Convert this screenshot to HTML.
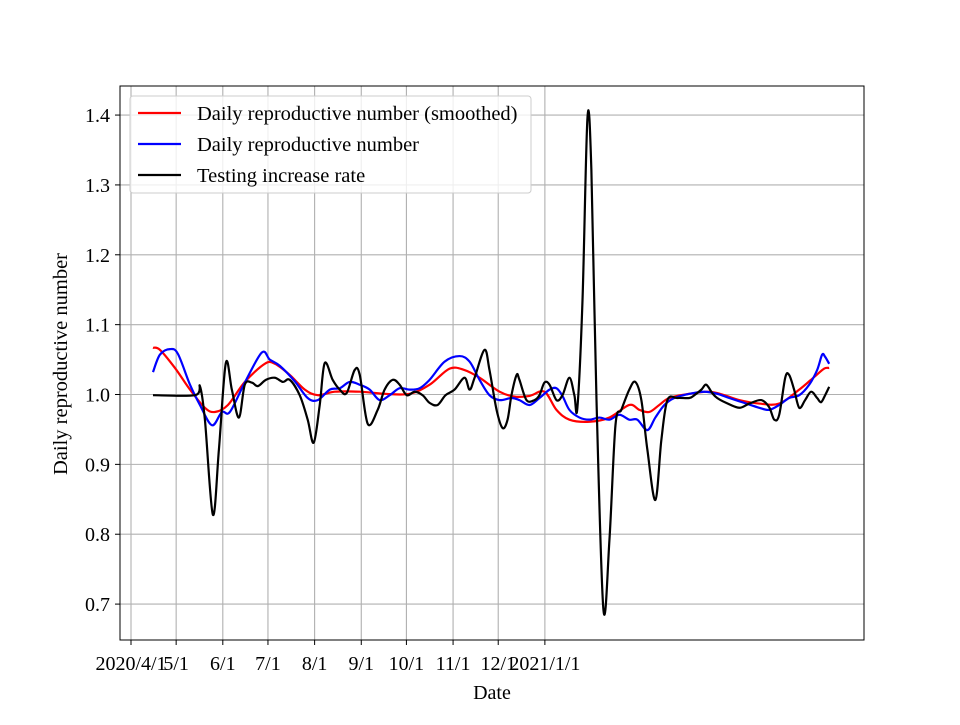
<!DOCTYPE html>
<html><head><meta charset="utf-8"><style>
body{margin:0;background:#fff}
svg{font-family:"Liberation Serif",serif}
</style></head><body>
<svg id="chart" width="960" height="720" xmlns="http://www.w3.org/2000/svg">
<rect width="960" height="720" fill="#fff"/>
<g id="grid"></g>
<g id="series"></g>
<rect x="120" y="86" width="744" height="554" fill="none" stroke="#000" stroke-width="1"/>
<g id="xticks"></g>
<g id="yticks"></g>
<text x="492" y="699" font-size="20" text-anchor="middle">Date</text>
<text transform="translate(67,364) rotate(-90)" font-size="20.5" text-anchor="middle">Daily reproductive number</text>
<g>
<rect x="130" y="96" width="401" height="97" rx="3" fill="#fff" fill-opacity="0.8" stroke="#ccc"/>
<line x1="138" y1="113" x2="181" y2="113" stroke="#f00" stroke-width="2.2"/>
<text x="197" y="120" font-size="20.5">Daily reproductive number (smoothed)</text>
<line x1="138" y1="144" x2="181" y2="144" stroke="#00f" stroke-width="2.2"/>
<text x="197" y="151" font-size="20.5">Daily reproductive number</text>
<line x1="138" y1="175" x2="181" y2="175" stroke="#000" stroke-width="2.2"/>
<text x="197" y="182" font-size="20.5">Testing increase rate</text>
</g>
</svg>
<script>
const xTickDays=[0,30,61,91,122,153,183,214,244,275];
const xTickLabels=["2020/4/1","5/1","6/1","7/1","8/1","9/1","10/1","11/1","12/1","2021/1/1"];
const yTickValues=[0.7,0.8,0.9,1.0,1.1,1.2,1.3,1.4];
const yTickLabels=["0.7","0.8","0.9","1.0","1.1","1.2","1.3","1.4"];
const redDays=[14.6,19.2,29.2,39.2,49.1,55.7,64.4,75.6,88.9,95.6,105.5,115.5,124.1,135.4,152,168.5,185.1,198.4,211.7,221.6,231.6,244.9,254.8,264.8,274.7,282.7,291.3,304.6,317.9,331.1,337.8,344.4,351,357.7,371,384.3,394.2,404.1,417.4,430.7,444,453.9,460.5,463.9];
const redValues=[1.067,1.064,1.038,1.007,0.981,0.975,0.985,1.018,1.044,1.044,1.028,1.007,0.999,1.004,1.004,1.001,1.001,1.014,1.037,1.035,1.024,1.004,0.997,0.998,1.004,0.978,0.964,0.961,0.967,0.985,0.978,0.975,0.985,0.995,1.001,1.004,0.999,0.992,0.987,0.987,1.007,1.025,1.037,1.038];
const blueDays=[14.6,19.2,25.9,31.2,39.2,45.8,53.8,60.4,65.7,75.6,86.9,92.2,98.9,108.8,117.4,124.1,132.1,138.7,145.3,152,158.6,165.2,171.9,178.5,185.1,191.8,198.4,208.4,218.3,225,231.6,238.2,244.9,252.8,258.1,264.8,271.4,278.1,282.7,286.7,291.3,298,304.6,311.2,317.9,324.5,331.1,336.4,343.1,348.4,354.4,361,371,381,389.5,397.5,407.5,417.4,424,430.7,437.3,444,450.6,455.9,459.2,461.2,463.9];
const blueValues=[1.032,1.057,1.065,1.058,1.014,0.985,0.956,0.975,0.975,1.017,1.060,1.050,1.041,1.019,0.995,0.992,1.007,1.009,1.018,1.014,1.007,0.992,0.999,1.009,1.007,1.009,1.021,1.047,1.055,1.047,1.021,0.999,0.992,0.995,0.992,0.985,0.995,1.007,1.009,0.998,0.978,0.967,0.964,0.967,0.964,0.971,0.964,0.964,0.949,0.967,0.985,0.995,1.001,1.004,1.001,0.995,0.988,0.981,0.978,0.985,0.995,0.999,1.014,1.035,1.057,1.054,1.044];
const blackDays=[14.6,42.5,45.8,49.1,54.4,58.4,63,67,71.7,75.6,80.3,84.3,89.6,95.6,100.9,105.5,112.1,117.4,121.4,125.4,128.7,134,138.7,143.3,148.6,152,157.3,163.9,168.5,173.9,178.5,183.2,188.5,193.8,198.4,203.7,209,215,221.6,225,228.3,234.9,238.2,242.9,246.9,250.2,252.8,256.2,258.1,262.8,268.1,271.4,274.7,278.1,282.7,286.7,291.3,294.6,296.6,300,303.3,305.9,309.3,313.9,317.9,321.9,325.8,331.1,335.1,339.1,343.1,348.4,352.4,356.4,363,371,374.3,379,382.2,386.2,389.5,395.5,404.1,410.8,418.7,424,427.4,430.7,434.7,437.3,440.6,444,447.9,451.9,455.9,458.5,461.2,463.9];
const blackValues=[0.999,0.999,1.012,0.964,0.828,0.921,1.045,1.007,0.967,1.014,1.017,1.012,1.021,1.024,1.018,1.021,0.999,0.964,0.931,0.985,1.045,1.021,1.007,1.002,1.035,1.028,0.958,0.978,1.007,1.021,1.014,0.999,1.004,0.999,0.988,0.985,0.999,1.007,1.024,1.007,1.024,1.064,1.035,0.978,0.952,0.964,0.999,1.028,1.021,0.992,0.992,0.999,1.017,1.014,0.992,0.999,1.024,0.999,0.981,1.135,1.396,1.321,0.992,0.692,0.792,0.956,0.978,1.007,1.018,0.992,0.921,0.849,0.935,0.992,0.995,0.995,0.999,1.007,1.014,1.002,0.995,0.988,0.981,0.987,0.992,0.982,0.964,0.971,1.024,1.028,1.007,0.981,0.992,1.004,0.995,0.989,0.999,1.011];

const X0=120,X1=864,Y0=86,Y1=640;
const dMin=-7.31,dMax=487.04,vMin=0.6486,vMax=1.4416;
function xs(d){return X0+(d-dMin)/(dMax-dMin)*(X1-X0);}
function ys(v){return Y1-(v-vMin)/(vMax-vMin)*(Y1-Y0);}
const NS="http://www.w3.org/2000/svg";
function mk(tag,attrs,parent){const e=document.createElementNS(NS,tag);for(const k in attrs)e.setAttribute(k,attrs[k]);parent.appendChild(e);return e;}
const grid=document.getElementById('grid'),xt=document.getElementById('xticks'),yt=document.getElementById('yticks'),ser=document.getElementById('series');
xTickDays.forEach((d,i)=>{
  const x=xs(d);
  const g=mk('line',{x1:x,x2:x,y1:Y0,y2:Y1,stroke:'#b0b0b0','stroke-width':1.1},grid);
  
  
  const t=mk('line',{x1:x,x2:x,y1:Y1,y2:Y1+5,stroke:'#000'},xt);
  
  
  const l=mk('text',{x:x,y:Y1+30,'font-size':20,'text-anchor':'middle'},xt);
  l.textContent=xTickLabels[i];
  
  
});
yTickValues.forEach((v,i)=>{
  const y=ys(v);
  const g=mk('line',{x1:X0,x2:X1,y1:y,y2:y,stroke:'#b0b0b0','stroke-width':1.1},grid);
  
  
  const t=mk('line',{x1:X0-5,x2:X0,y1:y,y2:y,stroke:'#000'},yt);
  
  
  const l=mk('text',{x:X0-10,y:y+7,'font-size':20,'text-anchor':'end'},yt);
  l.textContent=yTickLabels[i];
  
  
});
function pathFor(ds,vs){
  const p=ds.map((d,i)=>[xs(d),ys(vs[i])]);
  let s='M'+p[0][0]+','+p[0][1];
  for(let i=0;i<p.length-1;i++){
    const a=p[Math.max(0,i-1)],b=p[i],c=p[i+1],e=p[Math.min(p.length-1,i+2)];
    const c1=[b[0]+(c[0]-a[0])/6,b[1]+(c[1]-a[1])/6],c2=[c[0]-(e[0]-b[0])/6,c[1]-(e[1]-b[1])/6];
    s+=' C'+c1[0]+','+c1[1]+' '+c2[0]+','+c2[1]+' '+c[0]+','+c[1];
  }
  return s;
}
const pr=mk('path',{d:pathFor(redDays,redValues),fill:'none',stroke:'#f00','stroke-width':2.2},ser);


const pb=mk('path',{d:pathFor(blueDays,blueValues),fill:'none',stroke:'#00f','stroke-width':2.2},ser);


const pk=mk('path',{d:pathFor(blackDays,blackValues),fill:'none',stroke:'#000','stroke-width':2.2},ser);


</script>
</body></html>
